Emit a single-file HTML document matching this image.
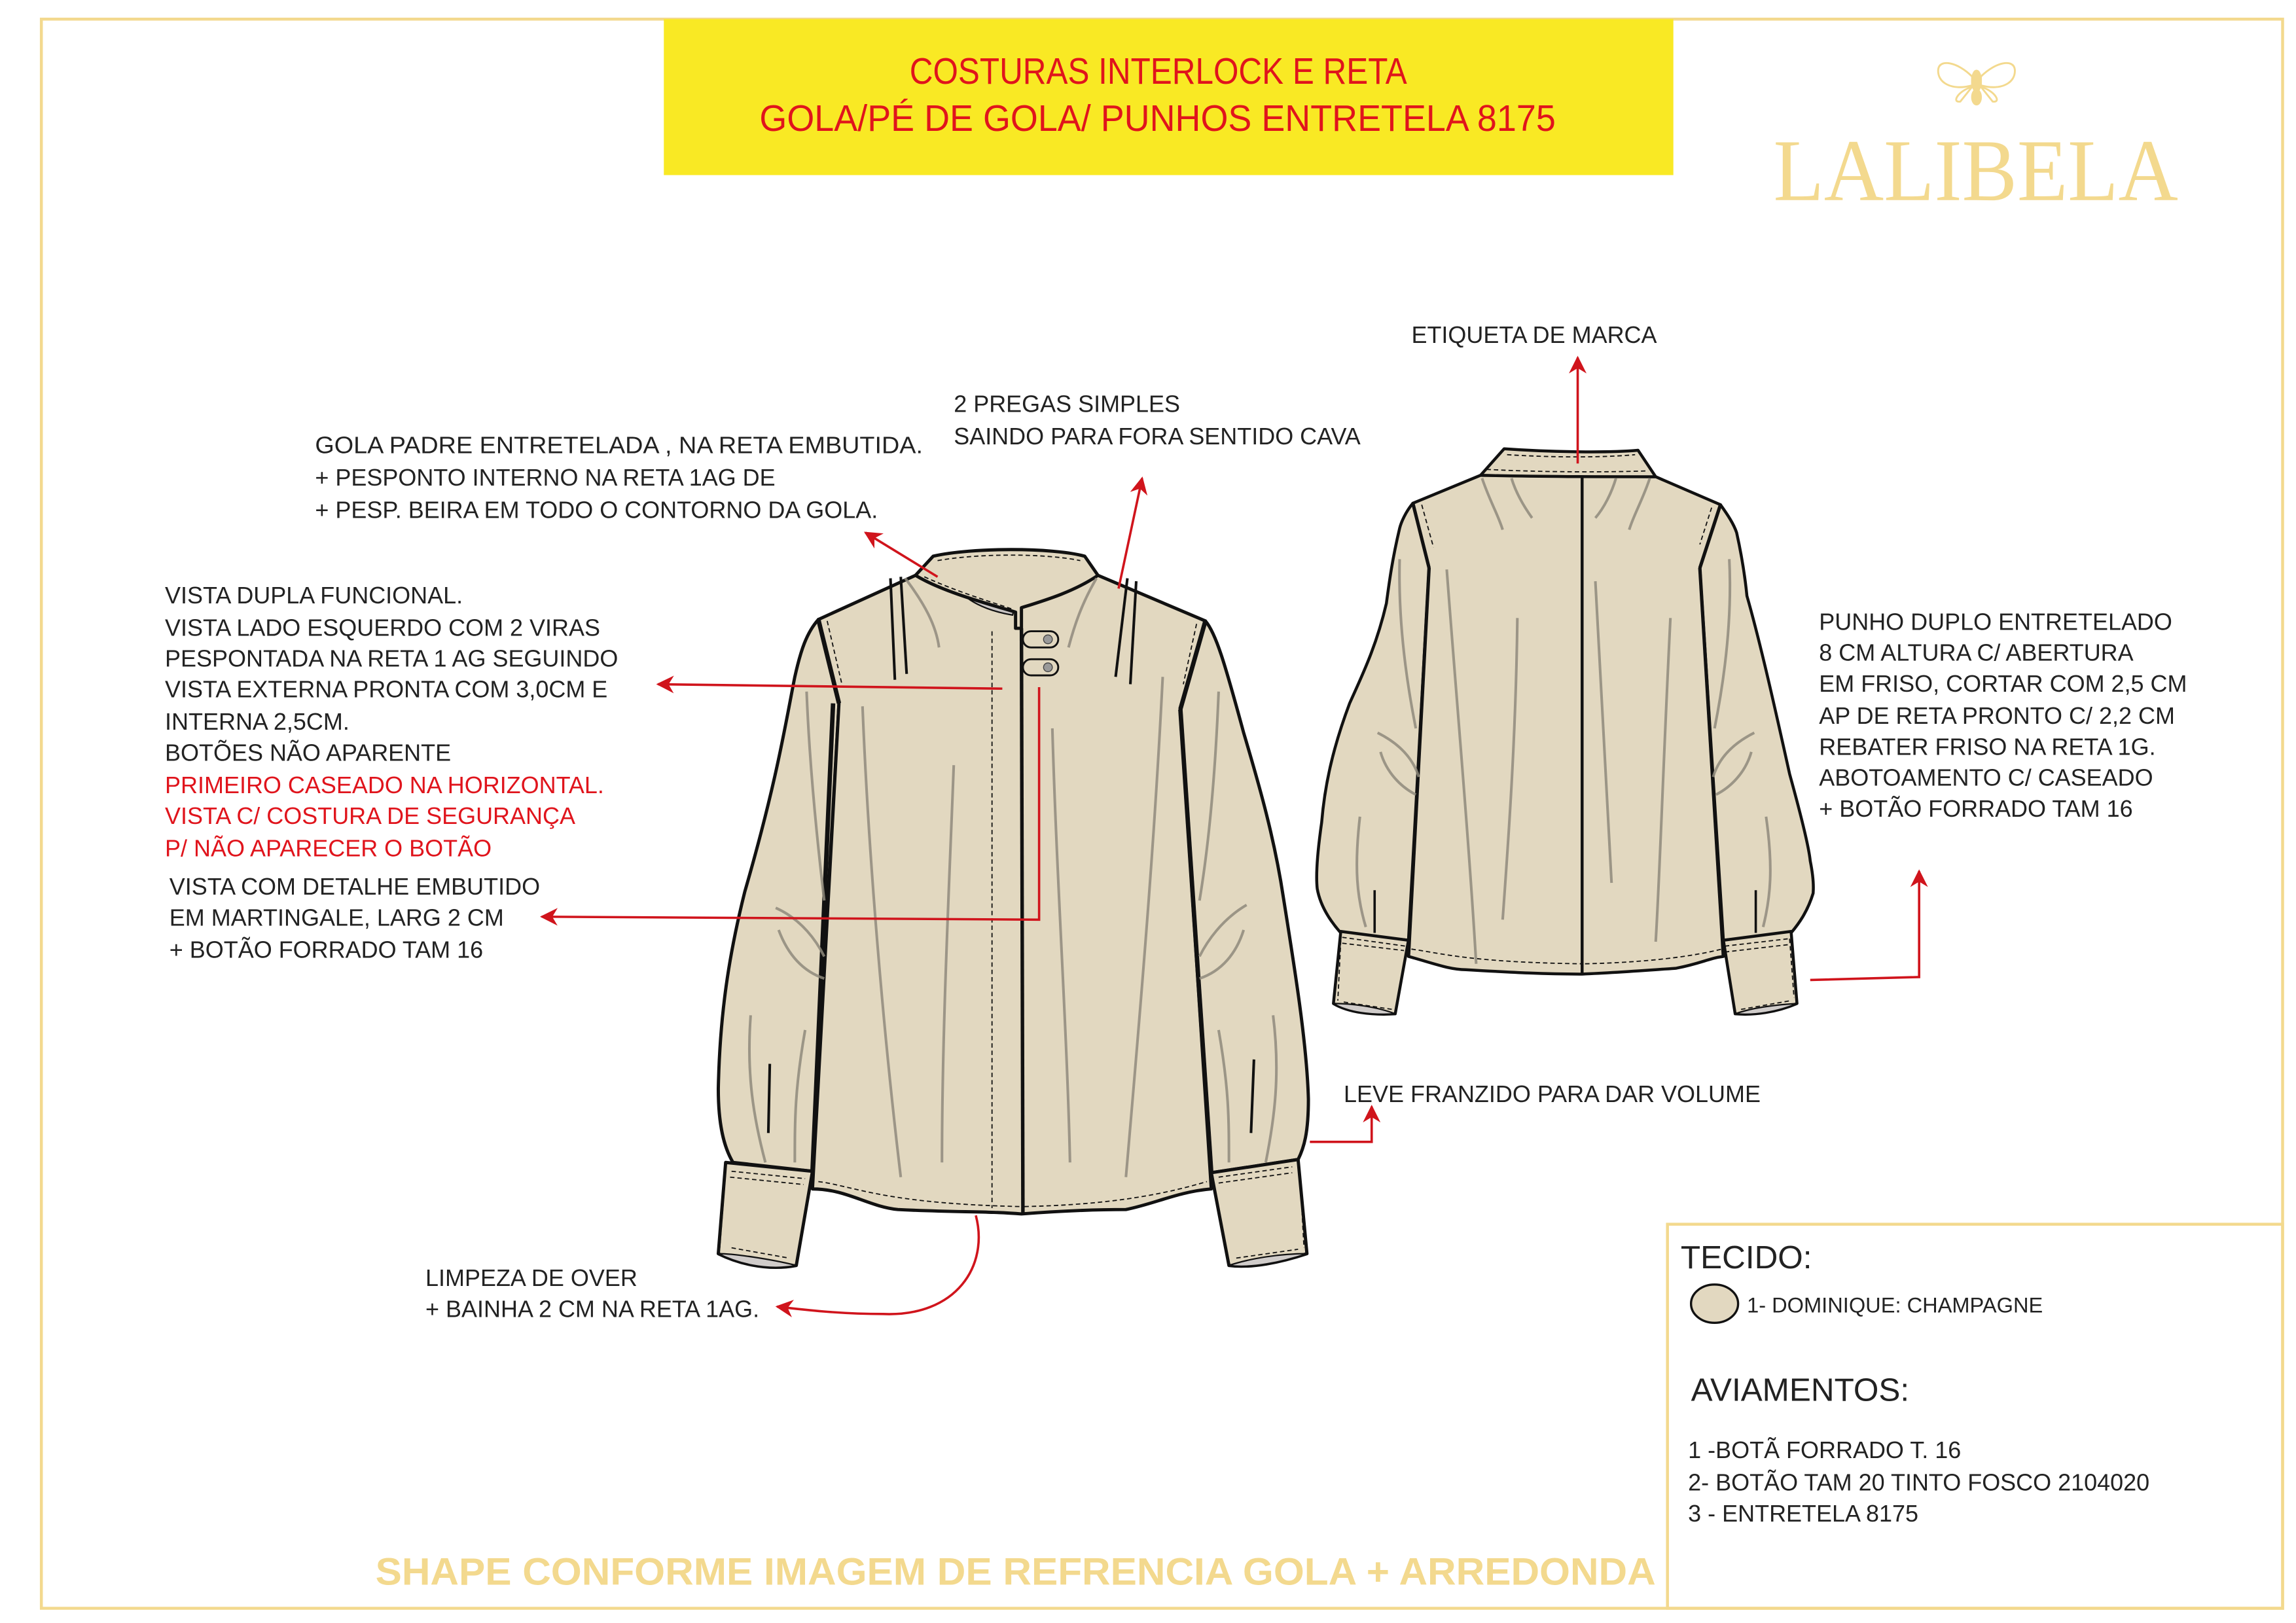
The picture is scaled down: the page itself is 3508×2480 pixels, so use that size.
<!DOCTYPE html>
<html><head><meta charset="utf-8"><style>html,body{margin:0;padding:0;background:#fff}svg{display:block}</style></head><body>
<svg xmlns="http://www.w3.org/2000/svg" width="3508" height="2480" viewBox="0 0 1560 1103">
<defs>
<marker id="ar2" viewBox="0 0 10 10" refX="9" refY="5" markerWidth="12" markerHeight="12" orient="auto" markerUnits="userSpaceOnUse"><path d="M0,0 L10,5 L0,10 L3,5 z" fill="#d0141c"/></marker>
</defs>
<rect width="1560" height="1103" fill="#fff"/>
<rect x="28" y="13" width="1523" height="1080" fill="none" stroke="#f3d98e" stroke-width="2"/>
<rect x="1133" y="832" width="418" height="261" fill="none" stroke="#f3d98e" stroke-width="2"/>
<rect x="451" y="13" width="686" height="106" fill="#f9e924"/>
<g font-family="Liberation Sans, sans-serif" fill="#e0141c" font-size="25">
<text x="618" y="57" textLength="338" lengthAdjust="spacingAndGlyphs">COSTURAS INTERLOCK E RETA</text>
<text x="516" y="89" textLength="541" lengthAdjust="spacingAndGlyphs">GOLA/PÉ DE GOLA/ PUNHOS ENTRETELA 8175</text>
</g>
<text x="1205" y="136" font-family="Liberation Serif, serif" font-size="60" fill="#f3d98e" textLength="275" lengthAdjust="spacingAndGlyphs">LALIBELA</text>
<g fill="none" stroke="#f3d98e" stroke-width="1.3">
<ellipse cx="1343" cy="55" rx="3" ry="7" fill="#f3d98e"/>
<ellipse cx="1343" cy="66" rx="3" ry="5" fill="#f3d98e"/>
<path d="M1340,52 C1330,42 1318,40 1317,47 C1316,56 1326,62 1340,58 z"/>
<path d="M1346,52 C1356,42 1368,40 1369,47 C1370,56 1360,62 1346,58 z"/>
<path d="M1340,59 C1330,62 1326,70 1332,69 z"/><path d="M1346,59 C1356,62 1360,70 1354,69 z"/>
</g>
<g font-family="Liberation Sans, sans-serif" font-size="16" fill="#222">
<text x="959" y="233">ETIQUETA  DE MARCA</text>
<text x="648" y="280">2 PREGAS SIMPLES</text>
<text x="648" y="302">SAINDO PARA FORA SENTIDO CAVA</text>
<text x="214" y="308" textLength="413" lengthAdjust="spacingAndGlyphs">GOLA  PADRE ENTRETELADA ,  NA RETA EMBUTIDA.</text>
<text x="214" y="330">+ PESPONTO INTERNO NA RETA 1AG DE</text>
<text x="214" y="352">+ PESP. BEIRA EM TODO O CONTORNO DA GOLA.</text>
<text x="112" y="410">VISTA DUPLA FUNCIONAL.</text>
<text x="112" y="432">VISTA LADO ESQUERDO COM 2 VIRAS</text>
<text x="112" y="453">PESPONTADA NA RETA 1 AG SEGUINDO</text>
<text x="112" y="474">VISTA EXTERNA PRONTA COM 3,0CM E</text>
<text x="112" y="496">INTERNA 2,5CM.</text>
<text x="112" y="517">BOTÕES NÃO APARENTE</text>
<text x="112" y="539" fill="#e0141c">PRIMEIRO CASEADO NA HORIZONTAL.</text>
<text x="112" y="560" fill="#e0141c">VISTA C/ COSTURA DE SEGURANÇA</text>
<text x="112" y="582" fill="#e0141c">P/ NÃO APARECER O BOTÃO</text>
<text x="115" y="608">VISTA COM DETALHE EMBUTIDO</text>
<text x="115" y="629">EM MARTINGALE, LARG 2 CM</text>
<text x="115" y="651"> + BOTÃO FORRADO TAM 16</text>
<text x="1236" y="428">PUNHO DUPLO ENTRETELADO</text>
<text x="1236" y="449">8 CM ALTURA  C/ ABERTURA</text>
<text x="1236" y="470">EM FRISO, CORTAR COM 2,5 CM</text>
<text x="1236" y="492">AP DE RETA PRONTO C/ 2,2 CM</text>
<text x="1236" y="513">REBATER FRISO NA RETA 1G.</text>
<text x="1236" y="534">ABOTOAMENTO C/ CASEADO</text>
<text x="1236" y="555"> + BOTÃO FORRADO TAM 16</text>
<text x="913" y="749">LEVE FRANZIDO PARA DAR VOLUME</text>
<text x="289" y="874">LIMPEZA DE OVER</text>
<text x="289" y="895">+ BAINHA 2 CM NA RETA 1AG.</text>
<text x="1142" y="862" font-size="22">TECIDO:</text>
<text x="1187" y="892" font-size="14.5">1- DOMINIQUE: CHAMPAGNE</text>
<text x="1149" y="952" font-size="22">AVIAMENTOS:</text>
<text x="1147" y="991">1 -BOTÃ FORRADO T. 16</text>
<text x="1147" y="1013">2- BOTÃO TAM 20 TINTO FOSCO 2104020</text>
<text x="1147" y="1034">3 - ENTRETELA 8175</text>
</g>
<ellipse cx="1165" cy="886" rx="16" ry="13" fill="#e2d8c0" stroke="#111" stroke-width="1.5"/>
<text x="255" y="1077" font-family="Liberation Sans, sans-serif" font-weight="bold" font-size="26" fill="#f3d98e" textLength="870" lengthAdjust="spacingAndGlyphs">SHAPE CONFORME IMAGEM DE REFRENCIA GOLA + ARREDONDA</text>

<!-- FRONT SHIRT -->
<g stroke="#111" stroke-width="2.2" stroke-linejoin="round" fill="#e2d8c0">
<path d="M556,421 C548,430 544,442 540,460 C534,490 528,530 506,606 C495,650 489,690 488,740 C488,765 492,780 498,790 L552,796 L570,478 Z"/>
<path d="M819,422 C826,430 832,450 845,498 C856,535 866,570 872,610 C880,660 888,710 889,747 C889,770 886,780 882,788 L823,797 L802,482 Z"/>
<path d="M622,391 L556,421 L570,478 L552,808 C575,808 590,820 610,822 C650,824 670,823 694,825 C720,823 745,822 765,822 C785,818 800,810 823,808 L802,482 L819,422 L746,391 C720,402 700,410 692,413 C680,408 650,402 622,391 Z"/>
<path d="M650,398 C665,405 680,408 690,410 L688,418 C670,415 655,408 650,398 Z" fill="#c9c5c4" stroke-width="1"/>
<path d="M622,391 L634,378 C660,372 715,372 737,378 L746,391 C730,402 710,408 694,413 L694,427 L690,427 L690,416 C670,410 640,402 622,391 Z"/>
<path d="M493,790 L552,796 L541,860 C520,864 500,858 488,852 Z"/>
<path d="M488,852 C500,858 520,864 541,860 C525,856 500,852 488,852 Z" fill="#d0ccca" stroke-width="1"/>
<path d="M823,797 L882,788 L888,852 C870,858 850,862 835,860 Z"/>
<path d="M835,860 C850,862 870,858 888,852 C870,852 850,855 835,860 Z" fill="#d0ccca" stroke-width="1"/>
<rect x="695" y="429" width="24" height="11" rx="5.5" stroke-width="1.3"/>
<rect x="695" y="448" width="24" height="11" rx="5.5" stroke-width="1.3"/>
</g>
<circle cx="712" cy="434.5" r="3" fill="#999" stroke="#444" stroke-width="0.6"/>
<circle cx="712" cy="453.5" r="3" fill="#999" stroke="#444" stroke-width="0.6"/>
<g stroke="#111" fill="none">
<line x1="694" y1="427" x2="695" y2="825" stroke-width="2.4"/>
<line x1="566" y1="478" x2="552" y2="796" stroke-width="3"/>
<line x1="556" y1="421" x2="570" y2="478" stroke-width="3"/>
<line x1="802" y1="482" x2="823" y2="797" stroke-width="3"/>
<line x1="819" y1="422" x2="802" y2="482" stroke-width="3"/>
<g stroke-width="0.8" stroke-dasharray="3,2">
<line x1="674" y1="429" x2="674" y2="821"/>
<path d="M556,803 C580,806 600,818 694,820 M696,820 C740,819 780,815 820,803"/>
<path d="M562,422 L572,465"/><path d="M813,424 L804,465"/>
<path d="M637,381 C665,376 710,376 734,381"/>
<path d="M628,392 C650,402 670,408 688,414"/>
<path d="M497,796 L547,801 M496,800 L546,805 M493,797 L489,848 M497,848 L536,855"/>
<path d="M828,800 L878,793 M828,804 L878,797 M883,793 L886,848 M840,855 L882,849"/>
</g>
<g stroke-width="1.8">
<path d="M605,393 L608,462"/><path d="M612,392 L616,458"/>
<path d="M766,393 L758,460"/><path d="M772,395 L768,465"/>
<path d="M522,770 L523,723"/><path d="M850,770 L852,720"/>
</g>
</g>
<g stroke="#8f8a7c" stroke-width="1.8" fill="none" opacity="0.85">
<path d="M615,393 C628,410 636,425 638,440"/><path d="M745,393 C735,410 730,425 726,440"/>
<path d="M586,480 C590,580 600,700 612,800"/><path d="M648,520 C645,600 640,700 640,790"/>
<path d="M715,495 C718,600 725,700 727,790"/><path d="M790,460 C785,560 778,650 765,800"/>
<path d="M527,617 C545,625 555,640 560,650"/><path d="M529,632 C535,648 545,660 560,665"/>
<path d="M847,615 C830,625 820,640 815,650"/><path d="M845,632 C840,648 830,660 815,665"/>
<path d="M510,690 C507,730 512,760 520,790"/><path d="M865,690 C870,730 866,760 860,790"/>
<path d="M547,700 C540,740 540,760 540,790"/><path d="M828,700 C835,740 835,760 835,790"/>
<path d="M548,470 C550,520 555,570 560,612"/><path d="M828,470 C826,520 822,570 815,612"/>
</g>

<!-- BACK SHIRT -->
<g stroke="#111" stroke-width="2" stroke-linejoin="round" fill="#e2d8c0">
<path d="M960,342 C955,348 952,355 951,359 C946,380 944,395 942,410 C935,440 925,460 917,478 C905,510 900,535 898,559 C895,580 894,595 895,604 C897,615 903,625 911,634 L957,639 L971,386 Z"/>
<path d="M1169,343 C1174,350 1178,356 1180,362 C1184,380 1186,395 1187,405 C1197,440 1208,490 1216,526 C1224,555 1229,575 1230,585 C1233,600 1232,605 1232,607 C1228,620 1222,628 1217,634 L1171,639 L1155,386 Z"/>
<path d="M1006,323 L960,342 L971,386 L957,650 C975,655 985,659 996,659 C1030,661 1050,662 1075,662 C1100,661 1125,659 1139,658 C1155,655 1162,651 1171,650 L1155,386 L1169,343 L1125,324 Z"/>
<path d="M1006,323 L1022,305 C1050,307 1090,308 1113,306 L1125,324 C1085,324 1045,324 1006,323 Z"/>
<path d="M911,633 L957,639 L948,689 C932,690 916,688 906,682 Z"/>
<path d="M906,682 C916,688 932,690 948,689 C935,684 918,682 906,682 Z" fill="#d0ccca" stroke-width="1"/>
<path d="M1171,639 L1217,633 L1221,682 C1207,688 1192,690 1179,689 Z"/>
<path d="M1179,689 C1192,690 1207,688 1221,682 C1205,683 1190,685 1179,689 Z" fill="#d0ccca" stroke-width="1"/>
</g>
<g stroke="#111" fill="none">
<line x1="1075" y1="324" x2="1075" y2="662" stroke-width="2"/>
<line x1="960" y1="342" x2="971" y2="386" stroke-width="2.3"/>
<line x1="1169" y1="343" x2="1155" y2="386" stroke-width="2.3"/>
<line x1="971" y1="386" x2="957" y2="650" stroke-width="2.3"/>
<line x1="1155" y1="386" x2="1171" y2="650" stroke-width="2.3"/>
<g stroke-width="0.8" stroke-dasharray="3,2">
<path d="M1024,309 C1055,311 1090,311 1111,309"/>
<path d="M1010,319 C1050,321 1090,321 1120,320"/>
<path d="M966,343 L974,372"/><path d="M1163,345 L1155,370"/>
<path d="M959,645 C980,648 1000,654 1075,655 M1077,655 C1120,654 1150,650 1170,645"/>
<path d="M912,637 L955,643 M912,641 L954,646 M911,639 L909,680 M913,681 L946,686"/>
<path d="M1172,643 L1215,638 M1172,647 L1215,642 M1216,638 L1219,678 M1183,686 L1217,680"/>
</g>
<path d="M934,634 L934,605 M1193,634 L1193,605" stroke-width="1.6"/>
</g>
<g stroke="#8f8a7c" stroke-width="1.8" fill="none" opacity="0.85">
<path d="M1007,325 C1012,340 1018,350 1021,360"/><path d="M1027,325 C1030,335 1036,345 1041,352"/>
<path d="M1121,325 C1116,340 1110,350 1107,360"/><path d="M1098,325 C1095,335 1090,345 1084,352"/>
<path d="M983,387 C990,480 998,570 1003,655"/><path d="M1031,420 C1030,500 1025,570 1021,625"/>
<path d="M1084,395 C1088,480 1092,550 1095,600"/><path d="M1135,420 C1130,520 1128,590 1125,640"/>
<path d="M936,498 C950,505 960,515 964,528"/><path d="M938,511 C942,525 952,535 962,540"/>
<path d="M1192,498 C1178,505 1168,515 1164,528"/><path d="M1190,511 C1186,525 1176,535 1166,540"/>
<path d="M951,380 C950,420 955,460 962,495"/><path d="M1175,380 C1177,420 1172,460 1165,495"/>
<path d="M924,555 C920,590 922,610 928,630"/><path d="M1200,555 C1205,590 1203,610 1198,630"/>
</g>

<g stroke="#d0141c" stroke-width="1.6" fill="none">
<line x1="637" y1="392" x2="588" y2="362" marker-end="url(#ar2)"/>
<line x1="760" y1="400" x2="776" y2="325" marker-end="url(#ar2)"/>
<line x1="681" y1="468" x2="447" y2="465" marker-end="url(#ar2)"/>
<polyline points="706,467 706,625 368,623" marker-end="url(#ar2)"/>
<path d="M663,826 C672,860 650,895 600,893 C570,893 545,890 528,888" marker-end="url(#ar2)"/>
<polyline points="890,776 932,776 932,752" marker-end="url(#ar2)"/>
<line x1="1072" y1="315" x2="1072" y2="243" marker-end="url(#ar2)"/>
<polyline points="1230,666 1304,664 1304,592" marker-end="url(#ar2)"/>
</g>
</svg>
</body></html>
